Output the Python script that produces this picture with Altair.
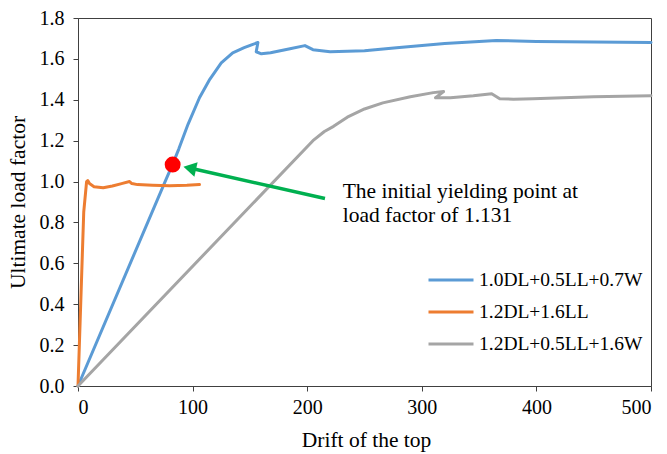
import altair as alt
import pandas as pd

# ---- data ----
series_names = ["1.0DL+0.5LL+0.7W", "1.2DL+1.6LL", "1.2DL+0.5LL+1.6W"]
series_colors = ["#5B9BD5", "#ED7D31", "#A5A5A5"]

blue_x = [0, 76, 83, 88, 96, 106, 115, 125, 135, 145, 152, 157, 155.5, 160, 168, 185, 198, 205, 220, 250, 278, 320, 365, 400, 450, 500]
blue_y = [0, 1.0, 1.09, 1.16, 1.28, 1.41, 1.50, 1.58, 1.63, 1.655, 1.67, 1.68, 1.635, 1.625, 1.63, 1.65, 1.665, 1.645, 1.635, 1.64, 1.655, 1.675, 1.69, 1.685, 1.682, 1.68]

orange_x = [0, 5, 7.5, 8.5, 10, 14, 22, 30, 38, 45, 47, 52, 65, 80, 95, 106]
orange_y = [0, 0.85, 1.0, 1.005, 0.99, 0.975, 0.97, 0.978, 0.99, 1.0, 0.99, 0.985, 0.982, 0.98, 0.982, 0.985]

gray_x = [0, 205, 215, 223, 235, 250, 266, 290, 310, 319, 312, 325, 345, 361, 368, 380, 397, 450, 500]
gray_y = [0, 1.2, 1.245, 1.27, 1.315, 1.355, 1.385, 1.415, 1.435, 1.44, 1.41, 1.41, 1.42, 1.43, 1.405, 1.403, 1.405, 1.415, 1.42]

x_ticks = [0, 100, 200, 300, 400, 500]
y_ticks = [0.0, 0.2, 0.4, 0.6, 0.8, 1.0, 1.2, 1.4, 1.6, 1.8]

yield_drift = [82.6]
yield_load = [1.083]

arrow_tail_drift = [215.5]
arrow_tail_load = [0.917]
arrow_head_drift = [97.5]
arrow_head_load = [1.066]

note_drift = [231]
note_load = [0.95]
note_text = ["The initial yielding point at\nload factor of 1.131"]

FONT = "Liberation Serif, Times New Roman, DejaVu Serif, serif"
LINE = "#404040"

rows = []
for name, xs, ys in zip(series_names, [blue_x, orange_x, gray_x], [blue_y, orange_y, gray_y]):
    for i, (x, y) in enumerate(zip(xs, ys)):
        rows.append({"series": name, "drift": x, "load": y, "i": i})
df = pd.DataFrame(rows)

dot_df = pd.DataFrame({"drift": yield_drift, "load": yield_load})
arrow_df = pd.DataFrame({"drift": arrow_tail_drift, "load": arrow_tail_load,
                         "drift2": arrow_head_drift, "load2": arrow_head_load})
head_df = pd.DataFrame({"drift": arrow_head_drift, "load": arrow_head_load})
note_df = pd.DataFrame({"drift": note_drift, "load": note_load, "text": note_text})

x_scale = alt.Scale(domain=[0, 500], nice=False)
y_scale = alt.Scale(domain=[0, 1.8], nice=False)

axis_style = dict(
    grid=False,
    domainColor=LINE, domainWidth=1,
    tickColor=LINE, tickSize=5, tickWidth=1,
    labelFont=FONT, labelFontSize=20, labelColor="black",
    titleFont=FONT, titleFontSize=21.5, titleColor="black", titleFontWeight="normal",
)

x_axis = alt.Axis(values=x_ticks, format="d", titleX=288, titleY=54,
                  titleBaseline="middle", labelPadding=6, **axis_style)
y_axis = alt.Axis(values=y_ticks, format=".1f", titleX=-60, titleY=184,
                  titleAngle=270, titleAlign="center", titleBaseline="middle",
                  labelPadding=9, **axis_style)

X_TITLE = "Drift of the top"
Y_TITLE = "Ultimate load factor"

lines = alt.Chart(df).mark_line(strokeWidth=3, strokeJoin="round", strokeCap="round").encode(
    x=alt.X("drift:Q", scale=x_scale, title=X_TITLE, axis=x_axis),
    y=alt.Y("load:Q", scale=y_scale, title=Y_TITLE, axis=y_axis),
    color=alt.Color("series:N",
                    scale=alt.Scale(domain=series_names, range=series_colors),
                    legend=alt.Legend(title=None, orient="none", legendX=349, legendY=252,
                                      symbolType="stroke", symbolSize=2025, symbolStrokeWidth=3,
                                      clipHeight=20, rowPadding=12, labelOffset=4, padding=0,
                                      labelLimit=400,
                                      labelFont=FONT, labelFontSize=19.5, labelColor="black")),
    order=alt.Order("i:Q"),
)

dot = alt.Chart(dot_df).mark_point(filled=True, shape="circle", size=254, color="#FF0000", opacity=1).encode(
    x=alt.X("drift:Q", scale=x_scale, title=X_TITLE),
    y=alt.Y("load:Q", scale=y_scale, title=Y_TITLE),
)

arrow = alt.Chart(arrow_df).mark_rule(color="#00B050", strokeWidth=3.5).encode(
    x=alt.X("drift:Q", scale=x_scale, title=X_TITLE),
    y=alt.Y("load:Q", scale=y_scale, title=Y_TITLE),
    x2="drift2:Q",
    y2="load2:Q",
)

head = alt.Chart(head_df).mark_point(filled=True, shape="triangle-right", size=220, angle=192.6,
                                     color="#00B050", opacity=1).encode(
    x=alt.X("drift:Q", scale=x_scale, title=X_TITLE),
    y=alt.Y("load:Q", scale=y_scale, title=Y_TITLE),
)

note = alt.Chart(note_df).mark_text(align="left", baseline="middle", font=FONT, fontSize=21.5,
                                    lineHeight=24, lineBreak="\n", color="black").encode(
    x=alt.X("drift:Q", scale=x_scale, title=X_TITLE),
    y=alt.Y("load:Q", scale=y_scale, title=Y_TITLE),
    text="text:N",
)

chart = alt.layer(lines, dot, arrow, head, note).properties(
    width=573, height=368,
    autosize=alt.AutoSizeParams(type="none"),
    padding={"left": 78, "top": 18, "right": 16, "bottom": 68},
    background="white",
).configure(
    font=FONT,
).configure_axis(
    labelFont=FONT, titleFont=FONT,
).configure_legend(
    labelFont=FONT,
).configure_text(
    font=FONT,
).configure_view(
    stroke=LINE, strokeWidth=1,
)

chart.save("out.html", embed_options={"renderer": "svg", "actions": False})
